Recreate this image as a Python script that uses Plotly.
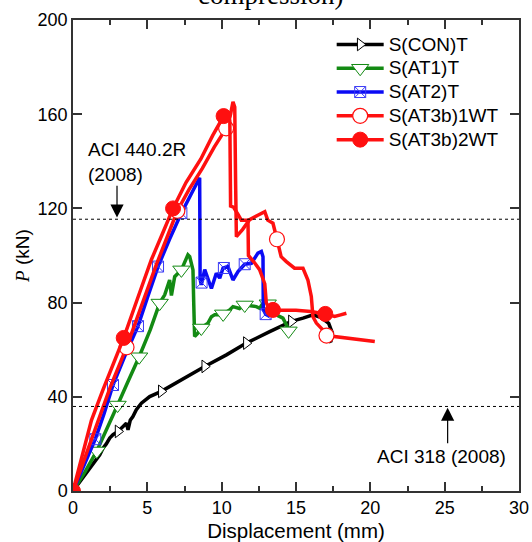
import plotly.graph_objects as go

# ---------------- data ----------------
con_x = [0, 0.8, 1.6, 1.8, 2.02, 2.24, 2.47, 2.69, 3.03, 3.36, 3.59, 3.7, 3.85, 4.03, 4.26, 4.6, 5.16,
         5.94, 6.5, 7.4, 8.86, 10.32, 11.66, 13.23, 14.69, 15.47, 16.14, 16.7, 17.2, 17.45, 17.35, 17.2]
con_y = [0, 7, 14, 15.4, 18.2, 20, 22.5, 23.9, 25.3, 27.4, 28.8, 26, 30, 31.6, 34.5, 37.3, 40.1,
         42.3, 44.4, 47.5, 52.9, 57.8, 62.8, 67.7, 72, 73.4, 74.8, 73.6, 71.2, 67, 63.7, 63.3]
con_mx = [3.03, 5.94, 8.86, 11.66, 14.69]
con_my = [25.3, 42.3, 52.9, 62.8, 72]

at1_x = [0, 0.8, 1.6, 2.3, 3.0, 3.7, 4.45, 5.2, 5.83, 6.17, 6.5, 6.62, 6.84, 7.29, 7.73, 7.85, 7.96,
         8.07, 8.12, 8.18, 8.4, 8.63, 9.08, 9.31, 9.53, 9.98, 10.2, 10.54, 10.76, 11.2, 11.55, 12.1,
         12.33, 12.56, 12.78, 13.1, 13.3, 13.68, 14.12, 14.35, 14.5]
at1_y = [0, 8, 17, 26.5, 36.5, 46.5, 57, 68.5, 79.8, 83.3, 89.6, 83, 91, 93.9, 100.3, 99.5, 96.7,
         93.9, 80, 65.6, 67, 69.2, 71.3, 74, 74.8, 74.8, 75.5, 76.9, 78.3, 77.5, 79, 78.3,
         78.3, 77.6, 79.8, 79.5, 76, 74.8, 73.4, 70.6, 68]
at1_mx = [1.6, 3.0, 4.45, 5.83, 7.29, 8.63, 10.1, 11.55, 13.1, 14.5]
at1_my = [17, 36.5, 57, 79.8, 93.9, 69.2, 75.2, 79, 79.5, 68]

at2_x = [0, 0.7, 1.5, 2.1, 2.69, 3.5, 4.37, 5.0, 5.72, 6.5, 7.29, 7.9, 8.52, 8.55, 8.63, 8.86, 9.08,
         9.31, 9.64, 9.87, 10.09, 10.42, 10.76, 11.1, 11.55, 12.0, 12.44, 12.67, 12.78, 12.8, 12.96, 13.23]
at2_y = [0, 10, 22, 33, 45, 57.5, 70, 82, 95.3, 107, 118, 125.5, 133, 90, 87.5, 94, 89.6,
         86, 92.5, 90.4, 94.6, 95.3, 89.6, 93.2, 96.3, 96.7, 101, 101.7, 99.5, 77, 75.1, 74.1]
at2_mx = [1.5, 2.69, 4.37, 5.72, 7.29, 8.65, 10.15, 11.55, 12.96]
at2_my = [22, 45, 70, 95.3, 118, 88.5, 94.7, 96.3, 75.1]

w1_x = [0, 0.5, 1.0, 1.68, 2.5, 3.6, 4.6, 5.6, 7.02, 7.8, 8.7, 9.5, 10.3, 10.6, 10.76, 10.88, 10.94,
        10.99, 11.4, 11.88, 12.4, 12.9, 13.1, 13.45, 13.72, 14.0, 14.35, 14.9, 15.47, 15.8, 16.03,
        16.14, 16.37, 16.8, 17.05, 17.6, 18.5, 19.5, 20.3]
w1_y = [0, 9, 18, 30, 44, 61, 78, 96, 119, 128, 137, 146, 154, 160, 165.3, 163, 130,
        108, 111, 115.2, 117, 118.6, 115, 113.7, 106.9, 99.5, 97.4, 94.6, 94.6, 89.6, 82.6,
        74, 71.3, 68.4, 66, 65.6, 64.8, 64.2, 63.5]
w1_mx = [3.6, 7.02, 10.3, 13.72, 17.05]
w1_my = [61, 119, 154, 106.9, 66]

w2_x = [0, 0.4, 1.0, 1.24, 2.02, 2.7, 3.41, 4.3, 5.27, 6.0, 6.73, 7.6, 8.6, 9.4, 10.13, 10.45, 10.55,
        10.6, 10.8, 11.1, 11.32, 11.77, 11.8, 12.2, 12.55, 12.9, 13.0, 13.2, 13.45, 14.0, 15.0, 16.0,
        16.97, 17.6, 18.0, 18.39]
w2_y = [0, 10, 24, 30, 43, 54, 65, 81, 98.2, 109, 120, 131, 141, 151, 159.2, 161, 157,
        121, 120.5, 117.5, 115, 115, 100, 97, 94, 88, 80, 77, 76.9, 76.7, 76.8, 76.2,
        75.2, 74.1, 74.8, 75.5]
w2_mx = [0, 3.41, 6.73, 10.13, 13.45, 16.97]
w2_my = [0, 65, 120, 159.2, 76.9, 75.2]

aci440_y = 115.4
aci318_y = 35.9
aci440_arrow_x = 2.96
aci318_arrow_x = 25.2

names = ["S(CON)T", "S(AT1)T", "S(AT2)T", "S(AT3b)1WT", "S(AT3b)2WT"]

# ---------------- styles ----------------
series = [
    (con_x, con_y, con_mx, con_my, "black", dict(symbol="triangle-right", size=11, color="white",
                                                  line=dict(color="black", width=1))),
    (at1_x, at1_y, at1_mx, at1_my, "#138a13", dict(symbol="triangle-down", size=15, color="white",
                                                    line=dict(color="#138a13", width=1))),
    (at2_x, at2_y, at2_mx, at2_my, "#0a0af5", dict(symbol="square-x-open", size=11, color="#3a3af5",
                                                    line=dict(color="#3a3af5", width=1))),
    (w1_x, w1_y, w1_mx, w1_my, "#ff1010", dict(symbol="circle", size=15, color="white",
                                                line=dict(color="#ff1010", width=1.2))),
    (w2_x, w2_y, w2_mx, w2_my, "#ff1010", dict(symbol="circle", size=15, color="#ff1010",
                                                line=dict(color="#ff1010", width=1))),
]

fig = go.Figure()
for name, (xs, ys, mxs, mys, col, mk) in zip(names, series):
    fig.add_trace(go.Scatter(x=xs, y=ys, mode="lines", line=dict(color=col, width=3.5),
                             showlegend=False, legendgroup=name, hoverinfo="skip"))
    fig.add_trace(go.Scatter(x=mxs, y=mys, mode="markers", marker=mk,
                             showlegend=False, legendgroup=name))
for name, (xs, ys, mxs, mys, col, mk) in zip(names, series):
    fig.add_trace(go.Scatter(x=[None], y=[None], mode="lines+markers", name=
                             '<span style="font-size:19px">' + name + '</span>',
                             line=dict(color=col, width=3.5), marker=mk, legendgroup=name))

# reference lines
for yv in (aci440_y, aci318_y):
    fig.add_shape(type="line", xref="x", yref="y", x0=0, x1=30, y0=yv, y1=yv,
                  line=dict(color="black", width=1, dash="dot"))

font_main = "Liberation Sans, Arial, sans-serif"

fig.add_annotation(x=aci440_arrow_x, y=aci440_y + 0.7, ax=aci440_arrow_x, ay=130.3,
                   xref="x", yref="y", axref="x", ayref="y", text="", showarrow=True,
                   arrowhead=2, arrowsize=2.2, arrowwidth=1.2, arrowcolor="black")
fig.add_annotation(x=aci318_arrow_x, y=aci318_y - 0.5, ax=aci318_arrow_x, ay=19.6,
                   xref="x", yref="y", axref="x", ayref="y", text="", showarrow=True,
                   arrowhead=2, arrowsize=2.2, arrowwidth=1.2, arrowcolor="black")
fig.add_annotation(x=0.85, y=139.5, xref="x", yref="y", xanchor="left", yanchor="middle",
                   align="left", text="ACI 440.2R<br>(2008)", showarrow=False,
                   font=dict(family=font_main, size=19, color="black"))
fig.add_annotation(x=24.8, y=14.7, xref="x", yref="y", xanchor="center", yanchor="middle",
                   text="ACI 318 (2008)", showarrow=False,
                   font=dict(family=font_main, size=19, color="black"))
fig.add_annotation(x=0.443, y=1.054, xref="paper", yref="paper", xanchor="center",
                   yanchor="middle", text="compression)", showarrow=False,
                   font=dict(family="Liberation Serif, Times New Roman, serif", size=27, color="black"))

axis_common = dict(showline=True, linecolor="#333", linewidth=1.5, mirror="ticks", ticks="inside",
                   ticklen=9, tickwidth=1.5, tickcolor="#333", showgrid=False, zeroline=False,
                   automargin=False,
                   tickfont=dict(family=font_main, size=18, color="black"))

fig.update_xaxes(range=[0, 30], dtick=5, tick0=0,
                 minor=dict(dtick=2.5, ticks="inside", ticklen=5, tickwidth=1.5, tickcolor="#333"),
                 title=dict(text="Displacement (mm)", font=dict(family=font_main, size=20.5, color="black"),
                            standoff=6),
                 **axis_common)
fig.update_yaxes(range=[0, 200], dtick=40, tick0=0,
                 title=dict(text='<span style="font-family:Liberation Serif"><i>P</i></span> (kN)',
                            font=dict(family=font_main, size=19, color="black"), standoff=3),
                 **axis_common)

fig.update_layout(
    width=532, height=542,
    margin=dict(l=73, r=13, t=20, b=51),
    paper_bgcolor="white", plot_bgcolor="white",
    showlegend=True,
    legend=dict(x=0.580, y=0.984, xanchor="left", yanchor="top", bgcolor="rgba(0,0,0,0)",
                font=dict(family=font_main, size=16, color="black"), itemwidth=47,
                tracegroupgap=0, borderwidth=0),
)

fig.write_html("out.html")
